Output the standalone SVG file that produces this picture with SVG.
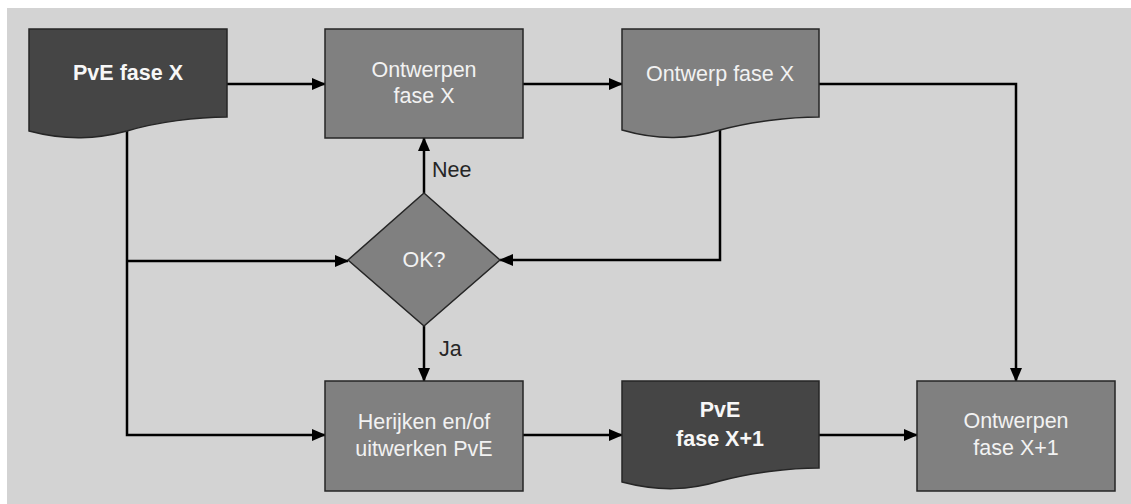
<svg xmlns="http://www.w3.org/2000/svg" width="1131" height="504" viewBox="0 0 1131 504">
  <style>
    .bg { fill: #d3d3d3; }
    .proc { fill: #808080; stroke: #262626; stroke-width: 1.5; }
    .doc-dark { fill: #454545; stroke: #262626; stroke-width: 1.5; }
    .doc-mid { fill: #808080; stroke: #262626; stroke-width: 1.5; }
    .lbl { font-family: "Liberation Sans", Arial, sans-serif; font-size: 21.5px; fill: #f2f2f2; text-anchor: middle; }
    .lbl-b { font-family: "Liberation Sans", Arial, sans-serif; font-size: 21.5px; font-weight: bold; fill: #f7f7f7; text-anchor: middle; }
    .edge-lbl { font-family: "Liberation Sans", Arial, sans-serif; font-size: 21.5px; fill: #262626; }
    .wire { fill: none; stroke: #000; stroke-width: 2.5; }
  </style>
  <defs>
    <marker id="arrow" markerUnits="userSpaceOnUse" markerWidth="14" markerHeight="12" refX="13" refY="6" orient="auto">
      <path d="M0,0 L14,6 L0,12 z" fill="#000"/>
    </marker>
  </defs>

  <rect class="bg" x="7" y="8" width="1124" height="496"/>

  <!-- connectors -->
  <g id="connectors">
    <path class="wire" d="M227,84 H325" marker-end="url(#arrow)"/>
    <path class="wire" d="M523,84 H622" marker-end="url(#arrow)"/>
    <path class="wire" d="M819,84 H1016 V381" marker-end="url(#arrow)"/>
    <path class="wire" d="M720,130 V260 H500" marker-end="url(#arrow)"/>
    <path class="wire" d="M424,193 V138" marker-end="url(#arrow)"/>
    <path class="wire" d="M424,326 V381" marker-end="url(#arrow)"/>
    <path class="wire" d="M127,131 V435 H325" marker-end="url(#arrow)"/>
    <path class="wire" d="M127,261 H348" marker-end="url(#arrow)"/>
    <path class="wire" d="M523,435 H622" marker-end="url(#arrow)"/>
    <path class="wire" d="M819,435 H917" marker-end="url(#arrow)"/>
    <text class="edge-lbl" x="432" y="177">Nee</text>
    <text class="edge-lbl" x="439" y="356">Ja</text>
  </g>

  <g id="pve-fase-x">
    <path class="doc-dark" d="M29,29 H227 V117 C197,117 157,122 127,131 C97,139 67,141 29,131 Z"/>
    <text class="lbl-b" x="128" y="80">PvE fase X</text>
  </g>

  <g id="ontwerpen-fase-x">
    <rect class="proc" x="325" y="29" width="198" height="109"/>
    <text class="lbl" x="424" y="77">Ontwerpen</text>
    <text class="lbl" x="424" y="103">fase X</text>
  </g>

  <g id="ontwerp-fase-x">
    <path class="doc-mid" d="M622,29 H819 V117 C789,117 749,122 720,130 C690,139 660,141 622,130 Z"/>
    <text class="lbl" x="720" y="81">Ontwerp fase X</text>
  </g>

  <g id="ok">
    <path class="proc" d="M424,193 L500,260 L424,326 L348,260 Z"/>
    <text class="lbl" x="424" y="267">OK?</text>
  </g>

  <g id="herijken">
    <rect class="proc" x="325" y="381" width="198" height="110"/>
    <text class="lbl" x="424" y="429">Herijken en/of</text>
    <text class="lbl" x="424" y="456">uitwerken PvE</text>
  </g>

  <g id="pve-fase-x1">
    <path class="doc-dark" d="M622,381 H819 V468 C789,468 749,473 720,481 C690,490 660,492 622,482 Z"/>
    <text class="lbl-b" x="720" y="417">PvE</text>
    <text class="lbl-b" x="720" y="446">fase X+1</text>
  </g>

  <g id="ontwerpen-fase-x1">
    <rect class="proc" x="917" y="381" width="198" height="110"/>
    <text class="lbl" x="1016" y="428">Ontwerpen</text>
    <text class="lbl" x="1016" y="455">fase X+1</text>
  </g>
</svg>
